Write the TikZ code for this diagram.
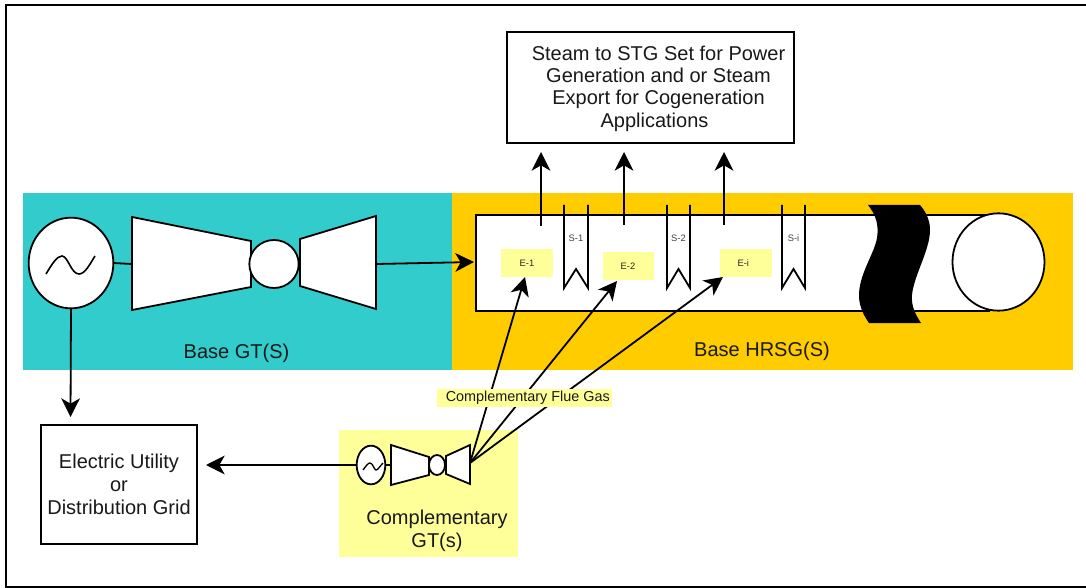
\documentclass[tikz,border=0pt]{standalone}
\usepackage{fontspec}
\setmainfont{Liberation Sans}
\usetikzlibrary{arrows.meta,shapes.geometric}
\definecolor{tealbg}{HTML}{33CCCC}
\definecolor{goldbg}{HTML}{FFCC00}
\definecolor{yellowbg}{HTML}{FFFF99}
\tikzset{
  px/.style={x=0.75pt,y=-0.75pt},
  lbl/.style={inner sep=0pt,align=center,font=\fontsize{15}{16.75}\selectfont,text=black!90},
  boxed/.style={draw=black,line width=1.5pt,fill=white,inner sep=0pt,outer sep=0pt},
  part/.style={draw=black,line width=1.35pt,fill=white,line join=miter},
  oval/.style={part,ellipse,inner sep=0pt,outer sep=0pt},
  wire/.style={draw=black,line width=1.35pt},
  arrow/.style={draw=black,line width=1.35pt,-{Stealth[length=14pt,width=14pt,inset=4pt]}},
  small/.style={inner sep=0pt,font=\fontsize{7}{8}\selectfont,text=black!75},
  heat/.style={fill=yellowbg,draw=none,inner sep=0pt,outer sep=0pt,font=\fontsize{7}{8}\selectfont,text=black!85},
}
\begin{document}
\begin{tikzpicture}[px]
\useasboundingbox (0,0) rectangle (1086,588);
\fill[white] (0,0) rectangle (1086,588);
\draw[line width=1.35pt] (1086,5) -- (6,5) -- (6,587) -- (1086,587);
% panels
\fill[tealbg] (23,193) rectangle (452,370);
\fill[goldbg] (452,193) rectangle (1073,370);
\fill[yellowbg] (339,430) rectangle (518,557);
% HRSG duct
\fill[white] (476,215) rectangle (990,311);
\draw[line width=1.5pt] (990,215) -- (476,215) -- (476,311) -- (990,311);
\node[oval,minimum width=69pt,minimum height=73pt] (stack) at (998.5,262) {};
% break
\fill[black] (868,205) .. controls (876,215) and (879,225) .. (877,238)
  .. controls (874,255) and (858,275) .. (859,298)
  .. controls (860,308) and (864,316) .. (869,323) -- (921,323)
  .. controls (915,314) and (911,305) .. (912,295)
  .. controls (914,275) and (930,250) .. (930,230)
  .. controls (930,220) and (926,212) .. (920,205) -- cycle;
% base GT
\node[oval,minimum width=63.5pt,minimum height=68pt] (gen) at (71,263) {};
\draw[line width=1.2pt] (46,274) .. controls (52,264) and (57,256) .. (62,256)
 .. controls (68,256) and (71,274) .. (79,274) .. controls (85,274) and (90,264) .. (95,256);
\coordinate (compW) at (132,264);
\draw[wire] (gen.east) -- (compW);
\draw[part] (132,217) -- (251,241) -- (251,287) -- (132,310) -- cycle;
\draw[part] (300,239) -- (376,216) -- (376,309) -- (300,286) -- cycle;
\node[oval,minimum width=37pt,minimum height=36pt] (comb) at (274,264) {};
% labels
\node[lbl] (basegt) at (236.5,353.5) {Base GT(S)};
\node[lbl] (basehrsg) at (762,351.5) {Base HRSG(S)};
% steam box
\node[boxed,minimum width=215pt,minimum height=83pt] (steam) at (650.5,87.5) {};
\node[lbl] (steamtxt) at (658.5,88.5) {Steam to STG Set for Power\\Generation and or Steam\\Export for Cogeneration\\Applications\hspace*{6pt}};
% grid
\node[boxed,minimum width=117pt,minimum height=89pt] (grid) at (119,484.5) {};
\node[lbl,font=\fontsize{15}{17.25}\selectfont] (gridtxt) at (119,484) {Electric Utility\\or\\Distribution Grid};
% heat exchangers
\node[heat,minimum width=39pt,minimum height=21pt] (e1) at (527,263) {E-1};
\node[heat,minimum width=38.25pt,minimum height=21pt] (e2) at (628,266) {E-2};
\node[heat,minimum width=39pt,minimum height=21pt] (ei) at (746,263) {E-i\hspace*{4pt}};
% steam sections
\foreach \x/\t/\w in {564/S-1/24,667/S-2/23,782/S-i/23}{
  \draw[wire] (\x,205) -- (\x,288) -- ({\x+\w/2},269) -- ({\x+\w},288) -- ({\x+\w},205);
  \node[small] at ({\x+\w/2},238) {\t};
}
% steam arrows
\coordinate (s1) at (541,226); \coordinate (s1t) at (541,152);
\coordinate (s2) at (624,225); \coordinate (s2t) at (624,152);
\coordinate (s3) at (724,225); \coordinate (s3t) at (724,152);
\draw[arrow] (s1) -- (s1t);
\draw[arrow] (s2) -- (s2t);
\draw[arrow] (s3) -- (s3t);
% GT to HRSG
\coordinate (exh) at (376,264);
\coordinate (ductW) at (474,262);
\draw[arrow] (exh) -- (ductW);
% gen to grid
\coordinate (gridN) at (70.5,417);
\draw[arrow] (gen.south) -- (gridN);
% complementary GT
\node[oval,minimum width=21.5pt,minimum height=29pt] (cgen) at (371,465) {};
\draw[line width=1pt] (363,470) .. controls (366,466) and (368,463) .. (370,463)
 .. controls (373,463) and (374,470) .. (376,470) .. controls (378,470) and (380,466) .. (383,463);
\coordinate (ccompW) at (391,465);
\draw[wire] (cgen.east) -- (ccompW);
\draw[part] (391,445) -- (429,457) -- (429,475) -- (391,485) -- cycle;
\draw[part] (446,456) -- (470,445) -- (470,484) -- (446,474) -- cycle;
\node[oval,minimum width=12pt,minimum height=15pt] (ccomb) at (437,465) {};
\coordinate (cgtE) at (470,463);
\node[lbl,font=\fontsize{15}{17.25}\selectfont] (cgtlbl) at (437,531) {Complementary\\GT(s)};
\coordinate (gridE) at (206,465);
\draw[arrow] (cgen.west) -- (gridE);
% flue arrows
\coordinate (ft2) at (617,281);
\coordinate (ft3) at (723,277);
\coordinate (ft1) at (525,277);
\draw[arrow] (cgtE) -- (ft1);
\draw[arrow] (cgtE) -- (ft2);
\draw[arrow] (cgtE) -- (ft3);
% flue label
\node[fill=yellowbg,inner sep=0pt,minimum width=131.25pt,minimum height=13.5pt,font=\fontsize{10.8}{12}\selectfont,text=black!90] (flue) at (524.5,397.5) {\hspace*{5pt}Complementary Flue Gas};
\end{tikzpicture}
\end{document}
